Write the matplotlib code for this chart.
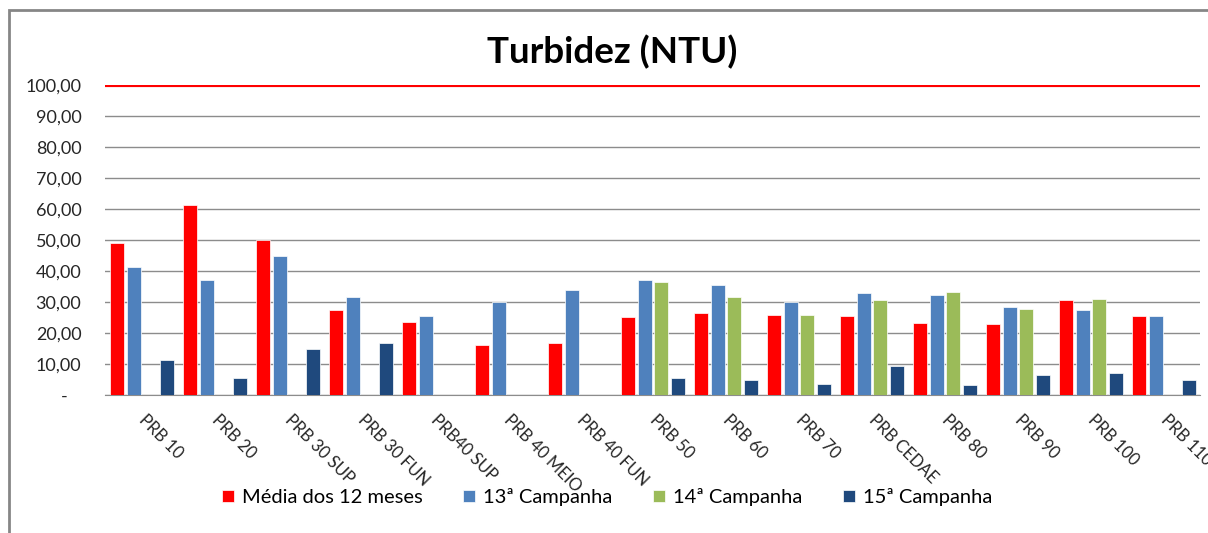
import numpy as np
import matplotlib
matplotlib.use("Agg")
import matplotlib.pyplot as plt
from matplotlib.patches import Rectangle

plt.rcParams['font.family'] = ['Lato', 'DejaVu Sans']

estacoes = ["PRB 10", "PRB 20", "PRB 30 SUP", "PRB 30 FUN", "PRB40 SUP",
            "PRB 40 MEIO", "PRB 40 FUN", "PRB 50", "PRB 60", "PRB 70",
            "PRB CEDAE", "PRB 80", "PRB 90", "PRB 100", "PRB 110"]

media_12 = [49.0, 61.3, 50.0, 27.5, 23.4, 16.1, 16.9, 25.1, 26.5, 25.7,
            25.4, 23.3, 23.0, 30.6, 25.4]
camp_13 = [41.2, 37.1, 44.9, 31.6, 25.5, 30.0, 34.0, 37.1, 35.4, 30.0,
           32.9, 32.3, 28.5, 27.5, 25.4]
camp_14 = [np.nan, np.nan, np.nan, np.nan, np.nan, np.nan, np.nan, 36.3, 31.6, 25.7,
           30.6, 33.2, 27.8, 30.9, np.nan]
camp_15 = [11.4, 5.6, 14.8, 16.9, np.nan, np.nan, np.nan, 5.6, 4.8, 3.5,
           9.4, 3.2, 6.3, 7.0, 4.8]

limite = 100.0

series = [
    ("Média dos 12 meses", media_12, "#FF0000"),
    ("13ª Campanha", camp_13, "#4F81BD"),
    ("14ª Campanha", camp_14, "#9BBB59"),
    ("15ª Campanha", camp_15, "#1F497D"),
]

fig = plt.figure(figsize=(12.08, 5.33), dpi=100)
ax = fig.add_axes([105 / 1208, 1 - 395 / 533, 1095 / 1208, 310 / 533])

# moldura do gráfico (cortada à direita e embaixo)
fig.patches.append(Rectangle((9 / 1208, -0.1), 1.2, 1.1 - 10 / 533,
                             transform=fig.transFigure, fill=False,
                             edgecolor="#868686", linewidth=2))

x = np.arange(len(estacoes))
largura = 0.19
passo = 0.225
for i, (nome, vals, cor) in enumerate(series):
    ax.bar(x - 0.5 + 0.075 + largura / 2 + i * passo, vals, width=largura,
           color=cor, edgecolor="white", linewidth=0.5, label=nome, zorder=3)

ax.axhline(limite, color="#FF0000", linewidth=3, zorder=4)

ax.set_xlim(-0.5, len(estacoes) - 0.5)
ax.set_ylim(0, 100)
ax.set_yticks(np.arange(0, 101, 10))
ax.set_yticklabels(["-   "] + [f"{v},00" for v in range(10, 101, 10)], fontsize=13,
                   color="#262626")
ax.yaxis.grid(True, color="#8c8c8c", linewidth=1, zorder=0)
ax.tick_params(axis="y", length=0, pad=17)

ax.set_xticks(x + 0.08)
ax.set_xticklabels(estacoes, rotation=-45, ha="left", va="top",
                   rotation_mode="anchor", fontsize=12, color="#262626")
ax.tick_params(axis="x", length=0, pad=12)

for s in ["top", "right", "left"]:
    ax.spines[s].set_visible(False)
ax.spines["bottom"].set_color("#8c8c8c")

fig.text(0.507, 1 - 52 / 533, "Turbidez (NTU)", ha="center", va="center",
         fontsize=26.5, fontweight="bold")

fig.legend(loc="center", bbox_to_anchor=(607 / 1208, 1 - 497 / 533), ncol=4,
           frameon=False, fontsize=14.5, handlelength=0.6, handleheight=0.6,
           handletextpad=0.4, columnspacing=2.0)

plt.savefig("out.png", dpi=100)
